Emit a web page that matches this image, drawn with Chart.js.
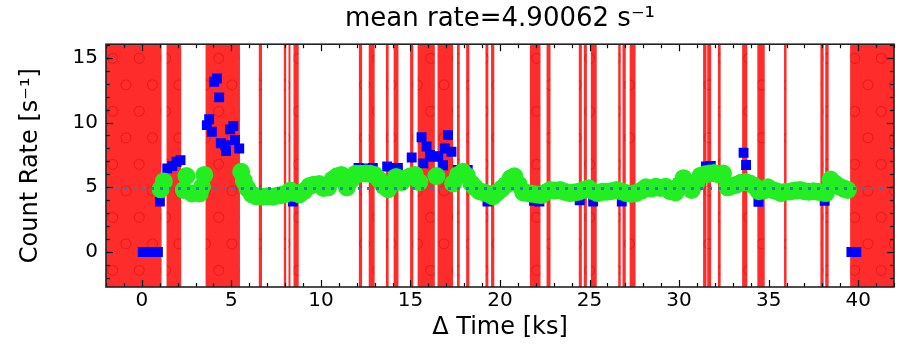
<!DOCTYPE html>
<html><head><meta charset="utf-8">
<script src="https://cdn.jsdelivr.net/npm/chart.js@4/dist/chart.umd.min.js"></script>
<style>html,body{margin:0;padding:0;background:#fff;}</style>
</head><body>
<canvas id="c" width="903" height="348"></canvas>
<script>
const titleText = 'mean rate=4.90062 s\u207B\u00B9';
const xTitle = '\u0394 Time [ks]';
const yTitle = 'Count Rate [s\u207B\u00B9]';
const meanRate = 4.90062;
const xTickLabels = [0, 5, 10, 15, 20, 25, 30, 35, 40];
const yTickLabels = [0, 5, 10, 15];

// excluded time intervals (ks)
const badStart = [-2, 1.38, 3.56, 6.53, 7.93, 8.19, 8.47, 12.12, 12.67, 13.63,
  14.06, 14.98, 15.40, 16.51, 17.60, 18.11, 19.19, 19.50, 21.67, 22.60,
  24.40, 24.68, 25.07, 26.60, 26.84, 27.24, 31.34, 31.57, 32.17, 33.52,
  34.37, 35.86, 37.89, 38.16, 39.55];
const badEnd = [1.10, 2.20, 5.48, 6.71, 8.06, 8.30, 8.76, 12.30, 13.00, 13.78,
  14.33, 15.16, 16.36, 17.38, 17.75, 18.29, 19.35, 19.68, 22.26, 22.82,
  24.57, 24.85, 25.40, 26.74, 27.02, 27.57, 31.53, 31.79, 32.32, 33.81,
  34.78, 36.00, 38.07, 38.35, 42];

// blue squares
const blueTime = [0.05, 0.5, 0.9, 1.01, 1.42, 1.70, 1.94, 2.16, 3.63, 3.76,
  3.91, 4.04, 4.19, 4.32, 4.41, 4.65, 4.7, 4.93, 5.11, 5.2,
  5.44, 8.43, 12.1, 12.35, 12.9, 13.7, 14.1, 14.3, 15.07, 15.62,
  15.72, 15.9, 16.09, 16.27, 16.55, 16.82, 16.92, 17.1, 17.29, 17.65,
  18.2, 19.3, 21.9, 22.2, 24.45, 25.2, 26.8, 31.5, 31.77, 32.2,
  33.6, 33.74, 34.43, 38.13, 39.62, 39.9];
const blueRate = [0, 0, 0, 3.9, 6.46, 6.64, 6.97, 7.1, 9.8, 10.25,
  9.29, 13.15, 13.4, 11.94, 8.4, 8.26, 7.8, 9.47, 9.73, 8.65,
  8.0, 3.9, 6.5, 6.46, 6.5, 6.6, 6.5, 6.5, 7.3, 8.86,
  6.85, 8.15, 7.5, 7.36, 7.4, 6.7, 8.0, 9.03, 7.74, 6.33,
  6.33, 3.9, 3.95, 3.9, 4.0, 3.9, 3.9, 6.6, 6.64, 6.33,
  7.67, 6.72, 3.88, 3.95, 0, 0];

// green circles
const greenTime = [1.05, 1.23, 2.34, 2.49, 2.8, 3.23, 3.36, 3.49, 5.55, 5.7,
  5.9, 6.15, 6.4, 6.7, 7.0, 7.3, 7.55, 7.8, 8.05, 8.3,
  8.55, 8.8, 9.05, 9.35, 9.6, 9.9, 10.15, 10.4, 10.65, 10.9,
  11.15, 11.45, 11.7, 11.95, 12.2, 12.5, 12.75, 13.0, 13.25, 13.5,
  13.75, 14.0, 14.2, 14.5, 14.75, 15.0, 15.25, 15.5, 16.45, 17.38,
  17.65, 17.93, 18.15, 18.4, 18.6, 18.85, 19.1, 19.35, 19.6, 19.85,
  20.1, 20.35, 20.6, 20.8, 21.05, 21.3, 21.55, 21.8, 22.05, 22.3,
  22.55, 22.8, 23.05, 23.35, 23.6, 23.9, 24.15, 24.4, 24.65, 24.95,
  25.2, 25.45, 25.7, 25.95, 26.2, 26.5, 26.75, 27.05, 27.3, 27.6,
  27.9, 28.15, 28.45, 28.7, 28.95, 29.25, 29.5, 29.8, 30.05, 30.25,
  30.5, 30.7, 30.95, 31.2, 31.45, 31.7, 31.95, 32.2, 32.45, 32.7,
  32.95, 33.2, 33.45, 33.7, 33.95, 34.2, 34.45, 34.7, 34.95, 35.2,
  35.45, 35.7, 35.95, 36.25, 36.5, 36.75, 37.0, 37.25, 37.5, 37.75,
  38.0, 38.2, 38.45, 38.7, 38.95, 39.2, 39.42];
const greenRate = [4.84, 5.45, 4.79, 5.87, 4.53, 4.53, 5.04, 5.95, 6.2, 5.5,
  4.9, 4.45, 4.3, 4.27, 4.3, 4.27, 4.35, 4.4, 4.5, 4.75,
  4.55, 4.45, 4.7, 5.1, 5.2, 5.25, 4.95, 5.0, 5.6, 5.85,
  5.95, 5.0, 5.6, 6.05, 6.05, 6.07, 6.05, 5.95, 5.6, 5.1,
  4.85, 5.3, 5.8, 5.4, 5.7, 5.85, 5.95, 5.4, 5.87, 5.3,
  5.95, 6.2, 5.9, 5.3, 5.0, 4.7, 4.6, 4.5, 4.3, 4.6,
  4.9, 5.2, 5.7, 5.85, 5.2, 4.6, 4.55, 4.5, 4.45, 4.4,
  4.6, 4.79, 4.75, 4.8, 4.65, 4.55, 4.6, 4.66, 4.8, 4.92,
  4.7, 4.55, 4.65, 4.66, 4.7, 4.79, 4.7, 4.55, 4.5, 4.55,
  4.75, 5.0, 4.9, 5.04, 4.95, 5.04, 4.7, 4.6, 5.2, 5.7,
  5.2, 4.8, 5.3, 5.9, 6.0, 6.07, 6.1, 6.0, 6.07, 5.0,
  5.1, 5.2, 5.35, 5.4, 5.3, 5.1, 4.7, 4.75, 5.0, 4.8,
  4.7, 4.55, 4.65, 4.7, 4.75, 4.8, 4.7, 4.66, 4.7, 4.66,
  4.6, 4.55, 5.6, 5.3, 5.05, 4.9, 4.79];

const X_MIN = -2, X_MAX = 42, Y_MIN = -2.7, Y_MAX = 16.05;
const FONT = 'DejaVu Sans';

const bandPlugin = {
  id: 'bands',
  beforeDatasetsDraw(chart) {
    const {ctx, chartArea: a, scales: {x}} = chart;
    ctx.save();
    ctx.beginPath(); ctx.rect(a.left, a.top, a.width, a.height); ctx.clip();
    for (let i = 0; i < badStart.length; i++) {
      const x0 = x.getPixelForValue(badStart[i]);
      const x1 = x.getPixelForValue(badEnd[i]);
      ctx.fillStyle = '#ff2c2c';
      ctx.fillRect(x0, a.top, x1 - x0, a.height);
      ctx.save();
      ctx.beginPath(); ctx.rect(x0, a.top, x1 - x0, a.height); ctx.clip();
      ctx.strokeStyle = 'rgba(200,0,0,0.35)';
      ctx.lineWidth = 1.2;
      const sp = 26.5;
      for (let k = -3; k < 14; k++) {
        const cy = 58.3 + k * sp;
        const off = (Math.abs(k) % 2) ? sp / 2 : 0;
        for (let j = -6; j < 40; j++) {
          const cx = 112.7 + off + j * sp;
          if (cx < x0 - 8 || cx > x1 + 8) continue;
          ctx.beginPath(); ctx.arc(cx, cy, 5, 0, Math.PI * 2); ctx.stroke();
        }
      }
      ctx.restore();
    }
    ctx.restore();
  },
  afterDraw(chart) {
    const {ctx, chartArea: a, scales: {x, y}} = chart;
    ctx.save();
    ctx.strokeStyle = '#000';
    ctx.lineWidth = 1.2;
    const line = (x0, y0, x1, y1) => { ctx.beginPath(); ctx.moveTo(x0, y0); ctx.lineTo(x1, y1); ctx.stroke(); };
    for (let v = Math.ceil(x.min); v <= x.max; v++) {
      const px = Math.round(x.getPixelForValue(v)) + 0.5;
      const L = xTickLabels.includes(v) ? 7 : 4;
      line(px, a.bottom, px, a.bottom - L);
      line(px, a.top, px, a.top + L);
    }
    for (let v = Math.ceil(y.min); v <= y.max; v++) {
      const py = Math.round(y.getPixelForValue(v)) + 0.5;
      const L = yTickLabels.includes(v) ? 7 : 4;
      line(a.left, py, a.left + L, py);
      line(a.right, py, a.right - L, py);
    }
    ctx.lineWidth = 1.6;
    ctx.strokeStyle = '#222';
    ctx.strokeRect(a.left, a.top, a.width, a.height);
    ctx.restore();
  }
};

new Chart(document.getElementById('c'), {
  type: 'scatter',
  data: {
    datasets: [
      {
        label: 'mean',
        type: 'line',
        data: [{x: X_MIN, y: meanRate}, {x: X_MAX, y: meanRate}],
        borderColor: '#2b7bba',
        borderWidth: 3,
        borderDash: [3, 6],
        pointRadius: 0,
        fill: false,
        order: 0
      },
      {
        label: 'green',
        data: greenTime.map((t, i) => ({x: t, y: greenRate[i]})),
        backgroundColor: '#22ee22',
        borderWidth: 0,
        pointRadius: 9,
        pointStyle: 'circle',
        order: 1
      },
      {
        label: 'blue',
        data: blueTime.map((t, i) => ({x: t, y: blueRate[i]})),
        backgroundColor: '#0000ff',
        borderWidth: 0,
        pointRadius: 7,
        pointStyle: 'rect',
        order: 2
      }
    ]
  },
  options: {
    responsive: false,
    animation: false,
    devicePixelRatio: 1,
    layout: {padding: {left: 0, right: 6, top: 0, bottom: 0}},
    plugins: {
      legend: {display: false},
      tooltip: {enabled: false},
      title: {
        display: true, text: titleText, color: '#000', fullSize: false,
        font: {family: FONT, size: 26, weight: 'normal'},
        padding: {top: 4, bottom: 9}
      }
    },
    scales: {
      x: {
        type: 'linear', min: X_MIN, max: X_MAX,
        afterBuildTicks: s => { s.ticks = xTickLabels.map(v => ({value: v})); },
        afterFit: s => { s.height = 61; },
        grid: {display: false, drawTicks: false},
        border: {display: false},
        ticks: {color: '#000', font: {family: FONT, size: 20}, padding: 2, maxRotation: 0, autoSkip: false},
        title: {display: true, text: xTitle, color: '#000', font: {family: FONT, size: 24}, padding: {top: 0, bottom: 6}}
      },
      y: {
        type: 'linear', min: Y_MIN, max: Y_MAX,
        afterBuildTicks: s => { s.ticks = yTickLabels.map(v => ({value: v})); },
        afterFit: s => { s.width = 106; },
        grid: {display: false, drawTicks: false},
        border: {display: false},
        ticks: {color: '#000', font: {family: FONT, size: 20}, padding: 8, autoSkip: false},
        title: {display: true, text: yTitle, color: '#000', font: {family: FONT, size: 24}, padding: {top: 16, bottom: 0}}
      }
    }
  },
  plugins: [bandPlugin]
});
</script>
</body></html>
